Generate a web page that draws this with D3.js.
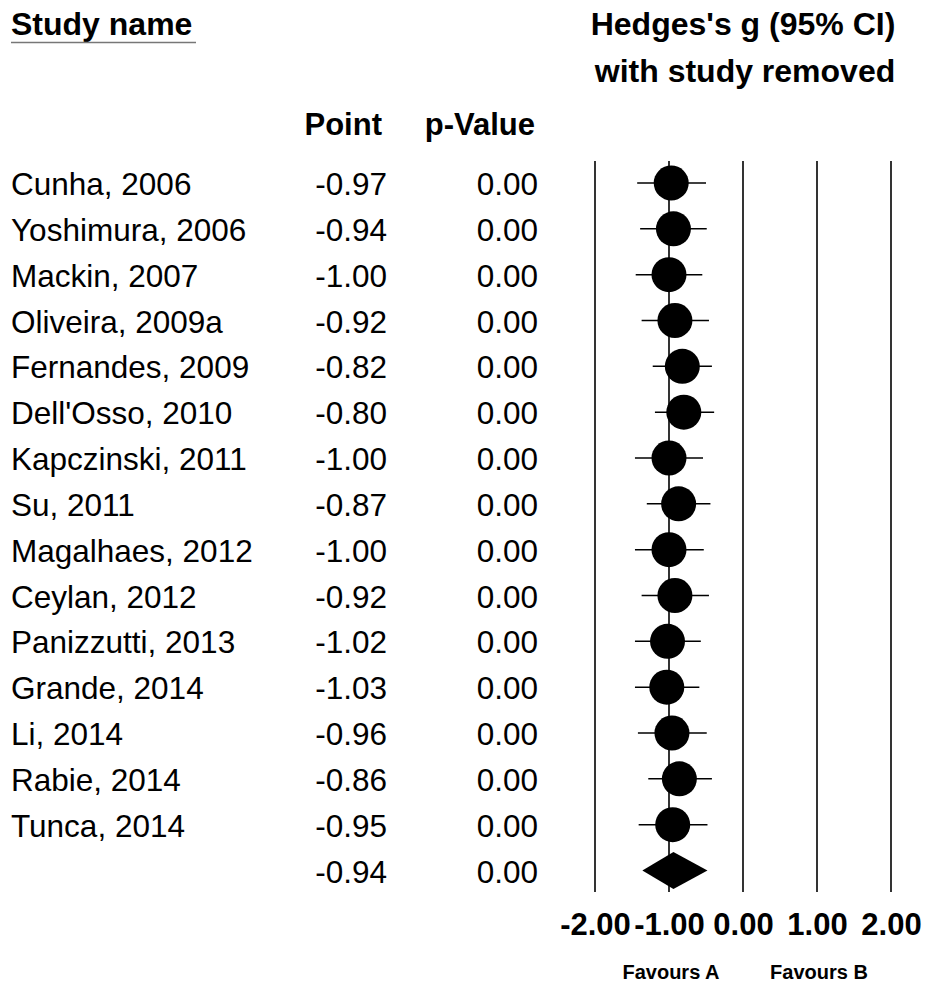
<!DOCTYPE html>
<html>
<head>
<meta charset="utf-8">
<script src="https://cdn.jsdelivr.net/npm/d3@7"></script>
<style>
  body { margin: 0; background: #fff; }
  text { font-family: "Liberation Sans", Arial, sans-serif; fill: #000; }
</style>
</head>
<body>
<div id="container"></div>
<script>
var width = 926;
var height = 984;

// study rows (last row is the combined estimate)
var studies = ["Cunha, 2006", "Yoshimura, 2006", "Mackin, 2007", "Oliveira, 2009a",
  "Fernandes, 2009", "Dell'Osso, 2010", "Kapczinski, 2011", "Su, 2011",
  "Magalhaes, 2012", "Ceylan, 2012", "Panizzutti, 2013", "Grande, 2014",
  "Li, 2014", "Rabie, 2014", "Tunca, 2014", ""];
var points = [-0.97, -0.94, -1.00, -0.92, -0.82, -0.80, -1.00, -0.87,
  -1.00, -0.92, -1.02, -1.03, -0.96, -0.86, -0.95, -0.94];
var lower = [-1.43, -1.39, -1.45, -1.37, -1.22, -1.19, -1.46, -1.30,
  -1.46, -1.37, -1.46, -1.46, -1.42, -1.28, -1.41, -1.36];
var upper = [-0.50, -0.49, -0.55, -0.46, -0.42, -0.39, -0.54, -0.44,
  -0.53, -0.46, -0.57, -0.59, -0.49, -0.42, -0.48, -0.48];
var pvalues = [0.00, 0.00, 0.00, 0.00, 0.00, 0.00, 0.00, 0.00,
  0.00, 0.00, 0.00, 0.00, 0.00, 0.00, 0.00, 0.00];
var ticks = [-2, -1, 0, 1, 2];
var favours = ["Favours A", "Favours B"];

// plain hyphen for negatives, like the original
var fmt = d3.formatLocale({
  decimal: ".", thousands: ",", grouping: [3], currency: ["", ""], minus: "-"
}).format(".2f");

var x = d3.scaleLinear().domain([-2, 2]).range([595, 891]);
var y = d3.scaleLinear().domain([0, studies.length - 1]).range([183, 870.5]);

var svg = d3.select("#container")
  .append("svg")
  .attr("width", width)
  .attr("height", height);

// headers
svg.append("text")
  .attr("x", 11).attr("y", 35)
  .style("font-size", "32px").style("font-weight", "bold")
  .text("Study name");
svg.append("line")
  .attr("x1", 11).attr("x2", 196)
  .attr("y1", 42.5).attr("y2", 42.5)
  .attr("stroke", "#777").attr("stroke-width", 1.5);

svg.append("text")
  .attr("x", x(0)).attr("y", 35)
  .attr("text-anchor", "middle")
  .style("font-size", "32px").style("font-weight", "bold")
  .text("Hedges's g (95% CI)");
svg.append("text")
  .attr("x", x(0) + 2).attr("y", 82)
  .attr("text-anchor", "middle")
  .style("font-size", "32px").style("font-weight", "bold")
  .text("with study removed");

svg.append("text")
  .attr("x", 382).attr("y", 135)
  .attr("text-anchor", "end")
  .style("font-size", "31px").style("font-weight", "bold")
  .text("Point");
svg.append("text")
  .attr("x", 535).attr("y", 135)
  .attr("text-anchor", "end")
  .style("font-size", "31px").style("font-weight", "bold")
  .text("p-Value");

// grid lines at ticks
svg.append("g")
  .selectAll("line")
  .data(ticks)
  .enter().append("line")
  .attr("x1", function(d) { return x(d); })
  .attr("x2", function(d) { return x(d); })
  .attr("y1", 161).attr("y2", 892)
  .attr("stroke", "#000")
  .attr("stroke-width", 1.6);

var rows = svg.append("g")
  .selectAll("g")
  .data(studies)
  .enter().append("g");

rows.append("text")
  .attr("x", 11)
  .attr("y", function(d, i) { return y(i) + 12; })
  .style("font-size", "31.5px")
  .text(function(d) { return d; });

rows.append("text")
  .attr("x", 387)
  .attr("y", function(d, i) { return y(i) + 12; })
  .attr("text-anchor", "end")
  .style("font-size", "31.5px")
  .text(function(d, i) { return fmt(points[i]); });

rows.append("text")
  .attr("x", 538)
  .attr("y", function(d, i) { return y(i) + 12; })
  .attr("text-anchor", "end")
  .style("font-size", "31.5px")
  .text(function(d, i) { return fmt(pvalues[i]); });

var last = studies.length - 1;

// confidence intervals and points
rows.filter(function(d, i) { return i < last; })
  .append("line")
  .attr("x1", function(d, i) { return x(lower[i]); })
  .attr("x2", function(d, i) { return x(upper[i]); })
  .attr("y1", function(d, i) { return y(i); })
  .attr("y2", function(d, i) { return y(i); })
  .attr("stroke", "#000")
  .attr("stroke-width", 1.5);

rows.filter(function(d, i) { return i < last; })
  .append("circle")
  .attr("cx", function(d, i) { return x(points[i]); })
  .attr("cy", function(d, i) { return y(i); })
  .attr("r", 17.5)
  .attr("fill", "#000");

// summary diamond
var sy = y(last);
svg.append("path")
  .attr("d", "M" + x(lower[last]) + "," + sy +
    "L" + x(points[last]) + "," + (sy - 18.5) +
    "L" + x(upper[last]) + "," + sy +
    "L" + x(points[last]) + "," + (sy + 18.5) + "Z")
  .attr("fill", "#000");

// axis labels
var axis = svg.append("g")
  .attr("transform", "translate(0,935)")
  .call(d3.axisBottom(x).tickValues(ticks).tickFormat(fmt).tickSize(0));
axis.select(".domain").remove();
axis.selectAll("text")
  .attr("y", 0).attr("dy", 0)
  .attr("fill", "#000")
  .style("font-family", "\"Liberation Sans\", Arial, sans-serif")
  .style("font-size", "31px")
  .style("font-weight", "bold");

svg.append("g")
  .selectAll("text")
  .data(favours)
  .enter().append("text")
  .attr("x", function(d, i) { return x(i === 0 ? -1 : 1) + 2; })
  .attr("y", 979)
  .attr("text-anchor", "middle")
  .style("font-size", "20px")
  .style("font-weight", "bold")
  .text(function(d) { return d; });
</script>
</body>
</html>
